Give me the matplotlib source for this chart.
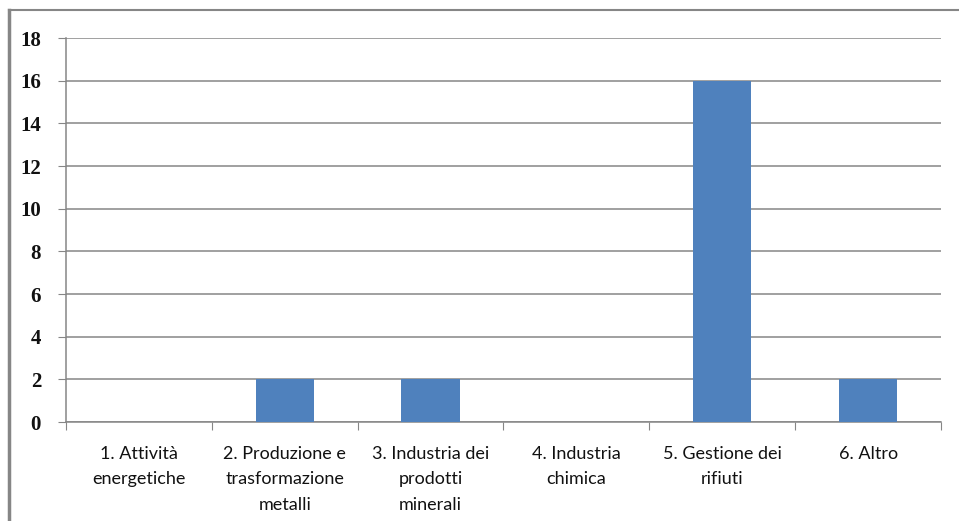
import matplotlib.pyplot as plt
import numpy as np
from matplotlib.lines import Line2D

# data
categories = ['1. Attività\nenergetiche', '2. Produzione e\ntrasformazione\nmetalli',
              '3. Industria dei\nprodotti\nminerali', '4. Industria\nchimica',
              '5. Gestione dei\nrifiuti', '6. Altro']
values = [0, 2, 2, 0, 16, 2]
yticks = list(range(0, 19, 2))

W, H = 959, 521
fig = plt.figure(figsize=(W / 100, H / 100), dpi=100)
# axes box in pixels: x 66..941, y 38..422
ax = fig.add_axes([66 / W, 1 - 422 / H, (941 - 66) / W, (422 - 38) / H])

grey = '#868686'
x = np.arange(len(categories))
ax.bar(x, values, width=0.4, color='#4F81BD', zorder=3)
ax.set_xlim(-0.5, len(categories) - 0.5)
ax.set_ylim(0, 18)

ax.set_yticks(yticks)
ax.set_yticklabels([str(t) for t in yticks], fontfamily='Liberation Serif',
                   fontsize=15, fontweight='bold', color='#111111')
ax.yaxis.grid(True, color=grey, linewidth=1.1, zorder=0)
ax.tick_params(axis='y', length=6, color=grey, pad=12)

ax.set_xticks(np.arange(len(categories) + 1) - 0.5)
ax.set_xticklabels([])
ax.set_xticks(x, minor=True)
ax.set_xticklabels(categories, minor=True, fontfamily='Lato', fontsize=13,
                   linespacing=1.75, color='#111111')
ax.tick_params(axis='x', which='minor', length=0, pad=17)
ax.tick_params(axis='x', which='major', length=6, color=grey)

for s in ['top', 'right']:
    ax.spines[s].set_visible(False)
for s in ['left', 'bottom']:
    ax.spines[s].set_color(grey)
    ax.spines[s].set_linewidth(1.1)

# outer chart frame (top and left edges)
fig.add_artist(Line2D([9 / W, 958 / W], [1 - 10 / H, 1 - 10 / H], color=grey,
                      linewidth=1.5, transform=fig.transFigure))
fig.add_artist(Line2D([9 / W, 9 / W], [1 - 10 / H, 0], color=grey,
                      linewidth=2.5, transform=fig.transFigure))

fig.savefig('out.png', dpi=100)
